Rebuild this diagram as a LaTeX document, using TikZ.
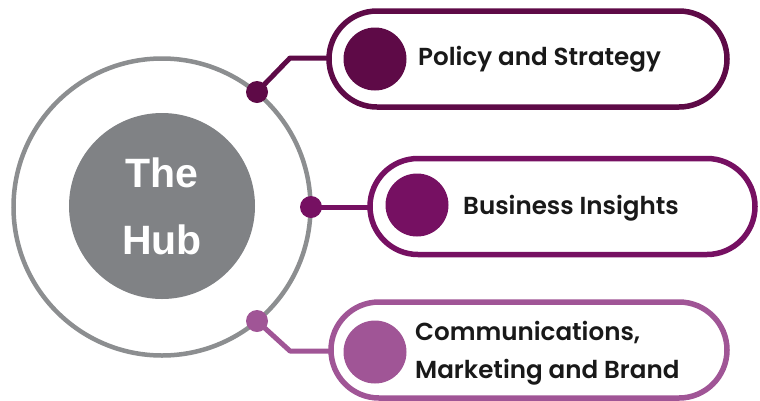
\documentclass[tikz,border=0pt]{standalone}
\usepackage{fontspec}
\setmainfont{Liberation Sans}
\newfontfamily\pillfont{Poppins SemiBold}
\usetikzlibrary{shapes.misc}
\definecolor{cA}{RGB}{94,10,71}
\definecolor{cB}{RGB}{118,16,98}
\definecolor{cC}{RGB}{160,85,150}
\definecolor{ringgray}{RGB}{140,142,144}
\definecolor{hubgray}{RGB}{128,130,133}
\definecolor{txt}{RGB}{25,25,25}
\begin{document}
\begin{tikzpicture}[x=1pt,y=-1pt,
  pill/.style={rounded rectangle, draw=#1, line width=5.5pt, minimum height=96pt, inner sep=0pt, outer sep=0pt},
  bullet/.style={circle, fill=#1, minimum size=63pt, inner sep=0pt},
  dot/.style={circle, fill=#1, minimum size=22pt, inner sep=0pt},
  conn/.style={draw=#1, line width=5pt, line join=round},
  label/.style={font=\pillfont\fontsize{24.6}{38}\selectfont, text=txt, inner sep=0pt, align=left}
]
\useasboundingbox (0,0) rectangle (760,400);
\fill[white] (0,0) rectangle (760,400);
% hub
\node[circle, draw=ringgray, line width=4.5pt, minimum size=297pt, inner sep=0pt] (ring) at (162,207) {};
\node[circle, fill=hubgray, minimum size=186pt, inner sep=0pt, text=white, align=center,
  font=\bfseries\fontsize{41}{67}\selectfont] (hub) at (162,206) {The\\Hub};
% pills
\node[pill=cA, minimum width=398pt] (p1) at (528,59) {};
\node[pill=cB, minimum width=385pt] (p2) at (562.5,206.5) {};
\node[pill=cC, minimum width=396pt] (p3) at (529,350) {};
\node[bullet=cA] (b1) at (375,59) {};
\node[bullet=cB] (b2) at (417,205) {};
\node[bullet=cC] (b3) at (375,352) {};
\node[label, anchor=base west] (t1) at (418,65) {Policy and Strategy};
\node[label, anchor=base west] (t2) at (463,214) {Business Insights};
\node[label, anchor=west] (t3) at (415,353) {Communications,\\Marketing and Brand};
% connectors
\coordinate (e1) at (290,58);
\coordinate (e3) at (290,351);
\node[dot=cA] (d1) at (257,92) {};
\node[dot=cB] (d2) at (311,207) {};
\node[dot=cC] (d3) at (257,321) {};
\draw[conn=cA] (d1.center) -- (e1) -- (e1 -| p1.west);
\draw[conn=cB] (d2.center) -- (d2 -| p2.west);
\draw[conn=cC] (d3.center) -- (e3) -- (e3 -| p3.west);
\end{tikzpicture}
\end{document}
